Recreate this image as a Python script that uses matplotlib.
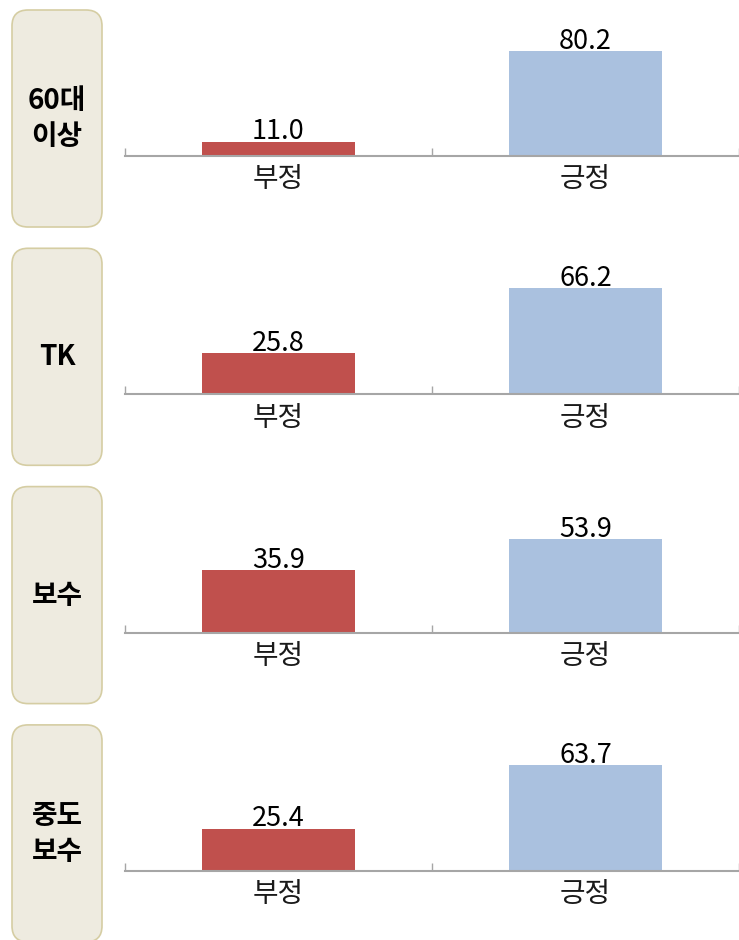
import matplotlib.pyplot as plt
from matplotlib.patches import FancyBboxPatch

plt.rcParams['font.family'] = ['Noto Sans CJK KR', 'DejaVu Sans']

# data
groups = ["60대\n이상", "TK", "보수", "중도\n보수"]
categories = ["부정", "긍정"]
negative = [11.0, 25.8, 35.9, 25.4]
positive = [80.2, 66.2, 53.9, 63.7]

colors = ["#C0504D", "#AAC1DF"]

W, H = 739, 940
fig = plt.figure(figsize=(W / 100, H / 100), dpi=100)

# background layer in pixel coordinates for the label boxes
bg = fig.add_axes([0, 0, 1, 1])
bg.set_xlim(0, W)
bg.set_ylim(H, 0)
bg.axis("off")

step = 238.3
ax_h = 130
ylim_top = [99, 81, 75, 78]

for i, name in enumerate(groups):
    top = 10 + i * step
    box = FancyBboxPatch((12, top), 90, 217,
                         boxstyle="round,pad=0,rounding_size=16",
                         facecolor="#EEEBE0", edgecolor="#D5CDA3", lw=1.2)
    bg.add_patch(box)
    bg.text(57, top + 109, name, ha="center", va="center",
            fontsize=20, fontweight="bold", linespacing=1.35)

    base = 156 + i * step
    ax = fig.add_axes([125 / W, (H - base) / H, (W - 125) / W, ax_h / H])
    vals = [negative[i], positive[i]]
    x = [0, 1]
    ax.bar(x, vals, width=0.5, color=colors, zorder=2)
    ax.set_xlim(-0.5, 1.5)
    ax.set_ylim(0, ylim_top[i])
    for xi, v in zip(x, vals):
        ax.annotate(f"{v:.1f}", (xi, v), xytext=(0, 1.5),
                    textcoords="offset points", ha="center", va="baseline",
                    fontsize=19.5, color="black")

    for s in ["top", "right", "left"]:
        ax.spines[s].set_visible(False)
    ax.spines["bottom"].set_color("#A6A6A6")
    ax.spines["bottom"].set_linewidth(1.5)
    ax.set_yticks([])
    ax.set_xticks(x)
    ax.set_xticklabels(categories, fontsize=20, color="#1a1a1a")
    ax.tick_params(axis="x", which="major", length=0, pad=6)
    ax.set_xticks([-0.5, 0.5, 1.5], minor=True)
    ax.tick_params(axis="x", which="minor", direction="in", length=6,
                   width=1, color="#A6A6A6")
    ax.patch.set_alpha(0)

fig.savefig("out.png", dpi=100)
